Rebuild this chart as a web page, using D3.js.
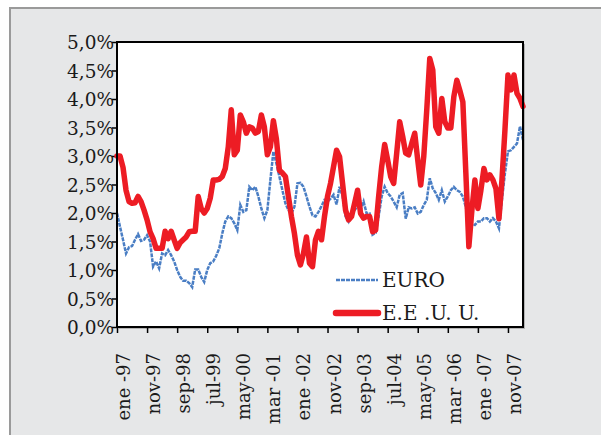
<!DOCTYPE html>
<html>
<head>
<meta charset="utf-8">
<script src="https://cdn.jsdelivr.net/npm/d3@7"></script>
<style>
  body { margin: 0; background: #fff; }
  svg text { font-family: "DejaVu Serif", serif; fill: #1a1a1a; }
</style>
</head>
<body>
<div id="chart"></div>
<script>
// Monthly rates, ene-97 .. abr-08 (136 months)
const euro = [
  2.0, 1.76, 1.53, 1.29, 1.4, 1.42, 1.53, 1.63, 1.51, 1.53,
  1.61, 1.5, 1.06, 1.15, 1.03, 1.29, 1.26, 1.35, 1.26, 1.15,
  1.0, 0.88, 0.81, 0.81, 0.77, 0.7, 1.01, 1.01, 0.88, 0.79,
  1.0, 1.12, 1.15, 1.25, 1.38, 1.64, 1.85, 1.94, 1.91, 1.82,
  1.7, 2.14, 2.02, 2.05, 2.46, 2.4, 2.46, 2.29, 2.08, 1.91,
  2.05, 2.58, 3.08, 2.87, 2.64, 2.4, 2.17, 2.05, 1.99, 2.11,
  2.52, 2.53, 2.46, 2.29, 2.11, 1.96, 1.94, 2.02, 2.12, 2.23,
  2.2, 2.25, 2.32, 2.15, 2.46, 2.3, 1.94, 1.85, 2.0, 2.05,
  2.12, 2.05, 2.2, 1.99, 1.99, 1.62, 1.65, 1.94, 2.29, 2.46,
  2.35, 2.29, 2.2, 2.1, 2.32, 2.35, 1.9, 2.1, 2.08, 2.1,
  1.99, 2.02, 2.14, 2.23, 2.61, 2.43, 2.35, 2.23, 2.4, 2.2,
  2.29, 2.4, 2.46, 2.4, 2.37, 2.29, 2.1, 1.85, 1.82, 1.79,
  1.85, 1.85, 1.91, 1.91, 1.85, 1.91, 1.85, 1.73, 2.23, 2.7,
  3.08, 3.1, 3.16, 3.22, 3.52, 3.28
];

const eeuu = [
  3.0, 3.0, 2.8, 2.4, 2.2, 2.17, 2.18, 2.29, 2.2, 2.05,
  1.88, 1.67, 1.55, 1.38, 1.38, 1.38, 1.68, 1.55, 1.68, 1.53,
  1.38, 1.48, 1.53, 1.58, 1.67, 1.68, 1.68, 2.29, 2.08, 2.0,
  2.08, 2.26, 2.58, 2.58, 2.59, 2.64, 2.78, 3.16, 3.81, 3.02,
  3.1, 3.72, 3.6, 3.4, 3.51, 3.49, 3.4, 3.43, 3.72, 3.51,
  3.02, 3.16, 3.62, 3.3, 2.75, 2.7, 2.64, 2.29, 1.94, 1.64,
  1.26, 1.09, 1.29, 1.58, 1.12, 1.06, 1.53, 1.68, 1.53, 1.94,
  2.29, 2.52, 2.81, 3.1, 2.99, 2.52, 2.05, 1.88, 1.94, 2.17,
  2.4, 1.99, 1.91, 1.94, 1.94, 1.67, 1.7, 2.29, 2.81, 3.2,
  2.93, 2.64, 2.52, 3.05, 3.6, 3.34, 3.05, 3.02, 3.22, 3.4,
  2.93, 2.49, 2.99, 3.81, 4.71, 4.51, 3.51, 3.4, 4.01, 3.6,
  3.49, 3.49, 4.04, 4.33, 4.15, 3.95, 2.7, 1.41, 2.05, 2.58,
  2.08, 2.4, 2.78, 2.58, 2.67, 2.58, 2.43, 1.9, 2.58, 3.46,
  4.42, 4.16, 4.42, 4.1, 4.01, 3.87
];

const tickLabels = ["ene -97", "nov-97", "sep-98", "jul-99", "may-00", "mar -01", "ene -02",
  "nov-02", "sep-03", "jul-04", "may-05", "mar -06", "ene -07", "nov-07"];
const tickEvery = 10; // months between labels

const yTicks = [0, 0.5, 1, 1.5, 2, 2.5, 3, 3.5, 4, 4.5, 5];

const W = 601, H = 435;
const plot = { left: 117, right: 523, top: 42, bottom: 327 };

const svg = d3.select("#chart").append("svg")
  .attr("width", W).attr("height", H);

// grey panel
svg.append("rect")
  .attr("x", 10).attr("y", 8)
  .attr("width", W).attr("height", H)
  .attr("fill", "#e6e7e8")
  .attr("stroke", "#9a9a9a").attr("stroke-width", 2);

// plot shadow + plot box
svg.append("rect")
  .attr("x", plot.left + 2).attr("y", plot.top + 2)
  .attr("width", plot.right - plot.left).attr("height", plot.bottom - plot.top)
  .attr("fill", "#b4b4b4");
svg.append("rect")
  .attr("x", plot.left).attr("y", plot.top)
  .attr("width", plot.right - plot.left).attr("height", plot.bottom - plot.top)
  .attr("fill", "#fff");

const x = d3.scaleLinear().domain([0, euro.length - 1]).range([plot.left, plot.right]);
const y = d3.scaleLinear().domain([0, 5]).range([plot.bottom, plot.top]);

const fmt = d => d.toFixed(1).replace(".", ",") + "%";

// Y axis
const yAxis = svg.append("g")
  .attr("transform", `translate(${plot.left},0)`)
  .call(d3.axisLeft(y).tickValues(yTicks).tickSize(5).tickPadding(0).tickFormat(fmt));
yAxis.select(".domain").remove();
yAxis.selectAll("line").attr("stroke", "#000").attr("stroke-width", 1.5);
yAxis.selectAll("text")
  .attr("font-size", 18.5)
  .attr("fill", "#1a1a1a")
  .attr("x", -3)
  .attr("dy", "0.36em");

// X axis
const xTickVals = tickLabels.map((_, i) => i * tickEvery);
const xAxis = svg.append("g")
  .attr("transform", `translate(0,${plot.bottom})`)
  .call(d3.axisBottom(x).tickValues(xTickVals).tickSize(6)
    .tickFormat((d, i) => tickLabels[i]));
xAxis.select(".domain").remove();
xAxis.selectAll("line").attr("stroke", "#000").attr("stroke-width", 1.5);
xAxis.selectAll("text")
  .attr("font-size", 18)
  .attr("fill", "#1a1a1a")
  .attr("text-anchor", "end")
  .attr("transform", "translate(6,26) rotate(-90)")
  .attr("x", 0).attr("y", 0)
  .attr("dy", "0.36em");

// lines
const line = d3.line().x((d, i) => x(i)).y(d => y(d));

svg.append("path")
  .datum(euro)
  .attr("fill", "none")
  .attr("stroke", "#4a7ec4")
  .attr("stroke-width", 2.5)
  .attr("stroke-dasharray", "4,1")
  .attr("d", line);

svg.append("path")
  .datum(eeuu)
  .attr("fill", "none")
  .attr("stroke", "#ed1c24")
  .attr("stroke-width", 5.5)
  .attr("stroke-linejoin", "round")
  .attr("stroke-linecap", "round")
  .attr("d", line);

// plot border on top
svg.append("rect")
  .attr("x", plot.left).attr("y", plot.top)
  .attr("width", plot.right - plot.left).attr("height", plot.bottom - plot.top)
  .attr("fill", "none")
  .attr("stroke", "#000").attr("stroke-width", 2);

// legend
const legend = svg.append("g");
const legendItems = [
  { name: "EURO", color: "#4a7ec4", width: 2.5, dash: "4,1", cy: 280 },
  { name: "E.E .U. U.", color: "#ed1c24", width: 6.5, dash: null, cy: 313 }
];
legendItems.forEach(it => {
  legend.append("line")
    .attr("x1", 336).attr("x2", 378)
    .attr("y1", it.cy).attr("y2", it.cy)
    .attr("stroke", it.color)
    .attr("stroke-width", it.width)
    .attr("stroke-linecap", it.dash ? "butt" : "round")
    .attr("stroke-dasharray", it.dash);
  legend.append("text")
    .attr("x", 382).attr("y", it.cy + 7)
    .attr("font-size", 20)
    .text(it.name);
});
</script>
</body>
</html>
